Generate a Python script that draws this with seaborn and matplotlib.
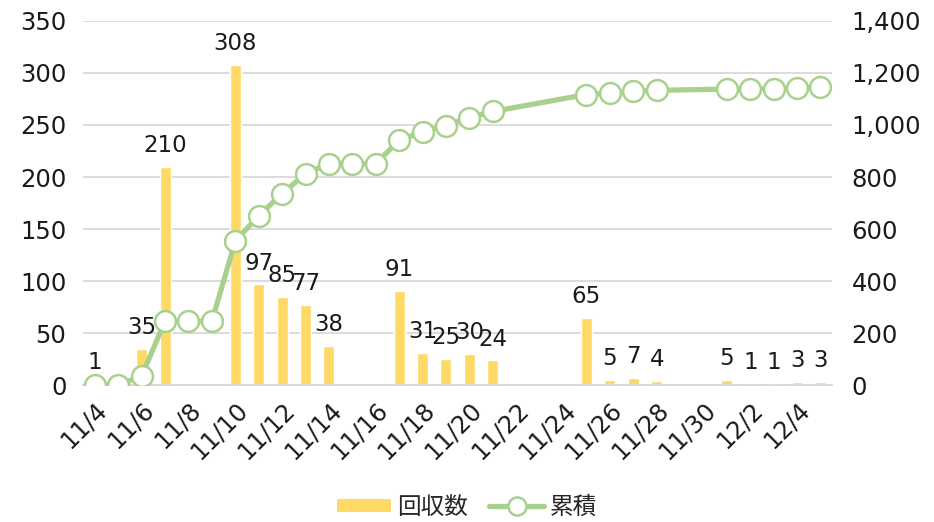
import numpy as np
import pandas as pd
import matplotlib
matplotlib.use("Agg")
import matplotlib.pyplot as plt
import seaborn as sns
from matplotlib.patches import Patch
from matplotlib.lines import Line2D
from matplotlib.ticker import FuncFormatter, FixedLocator

# data (None = no entry that day)
dates = ["11/4", "11/5", "11/6", "11/7", "11/8", "11/9", "11/10", "11/11",
         "11/12", "11/13", "11/14", "11/15", "11/16", "11/17", "11/18", "11/19",
         "11/20", "11/21", "11/22", "11/23", "11/24", "11/25", "11/26", "11/27",
         "11/28", "11/29", "11/30", "12/1", "12/2", "12/3", "12/4", "12/5"]
counts = [1, 0, 35, 210, 0, 0, 308, 97, 85, 77, 38, 0, 0, 91, 31, 25,
          30, 24, None, None, None, 65, 5, 7, 4, None, None, 5, 1, 1, 3, 3]
cumulative = [1, 1, 36, 246, 246, 246, 554, 651, 736, 813, 851, 851, 851, 942, 973, 998,
              1028, 1052, None, None, None, 1117, 1122, 1129, 1133, None, None,
              1138, 1139, 1140, 1143, 1146]

bar_color = "#FFD966"
line_color = "#A9D18E"
grid_color = "#D9D9D9"

sns.set_style("white")
plt.rcParams["font.family"] = ["DejaVu Sans", "Noto Sans CJK JP"]

df = pd.DataFrame({"date": dates,
                   "count": pd.Series(counts, dtype="float"),
                   "cum": pd.Series(cumulative, dtype="float")})
df["pos"] = np.arange(len(df))

fig = plt.figure(figsize=(9.34, 5.22), dpi=100)
ax = fig.add_axes([0.089, 0.262, 0.802, 0.698])

sns.barplot(data=df, x="date", y="count", order=dates, color=bar_color,
            saturation=1, width=0.47, errorbar=None, ax=ax, zorder=2)

for cont in ax.containers:
    labs = []
    for r in cont:
        h = r.get_height()
        labs.append("" if (np.isnan(h) or h == 0) else f"{h:g}")
    ax.bar_label(cont, labels=labs, padding=7, fontsize=16.5, color="#1a1a1a")

ax.set_xlim(-0.5, len(dates) - 0.5)
ax.set_ylim(0, 350)
ax.set_yticks(range(0, 351, 50))
ax.yaxis.grid(True, color=grid_color, linewidth=1.3)
ax.set_axisbelow(True)
ax.set_xlabel("")
ax.set_ylabel("")

# labels every 2 days at category centres, tick marks at boundaries
ax.set_xticks(df["pos"][::2])
ax.set_xticklabels(df["date"][::2], rotation=45, ha="right", rotation_mode="anchor",
                   fontsize=17.5, color="#1a1a1a")
ax.xaxis.set_minor_locator(FixedLocator(np.arange(-0.5, len(dates), 2)))
ax.tick_params(axis="x", which="major", length=0, pad=9)
ax.tick_params(axis="x", which="minor", length=6, color=grid_color, width=1.3)
ax.tick_params(axis="y", length=0, labelsize=17.5, pad=12, labelcolor="#1a1a1a")
for s in ["left", "right", "top"]:
    ax.spines[s].set_visible(False)
ax.spines["bottom"].set_color(grid_color)
ax.spines["bottom"].set_linewidth(1.3)

ax2 = ax.twinx()
line_df = df.dropna(subset=["cum"])
sns.lineplot(data=line_df, x="pos", y="cum", color=line_color, linewidth=3.8,
             marker="o", markersize=15, markerfacecolor="white",
             markeredgecolor=line_color, markeredgewidth=1.8, ax=ax2)
ax2.set_ylim(0, 1400)
ax2.set_yticks(range(0, 1401, 200))
ax2.yaxis.set_major_formatter(FuncFormatter(lambda v, p: f"{int(v):,}"))
ax2.tick_params(axis="y", length=0, labelsize=17.5, pad=14, labelcolor="#1a1a1a")
ax2.set_ylabel("")
ax2.set_xlim(-0.5, len(dates) - 0.5)
for s in ["left", "right", "top", "bottom"]:
    ax2.spines[s].set_visible(False)

handles = [Patch(facecolor=bar_color, edgecolor="none"),
           Line2D([], [], color=line_color, linewidth=3.8, marker="o", markersize=13,
                  markerfacecolor="white", markeredgecolor=line_color, markeredgewidth=1.8)]
fig.legend(handles, ["回収数", "累積"], loc="lower center", bbox_to_anchor=(0.5, -0.035),
           ncol=2, frameon=False, fontsize=17, handlelength=2.3, handleheight=0.5,
           columnspacing=0.9, handletextpad=0.25)

fig.savefig("out.png", dpi=100)
